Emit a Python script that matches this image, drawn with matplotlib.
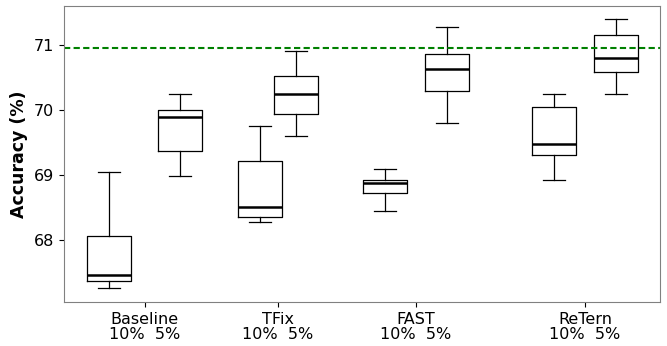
import matplotlib
matplotlib.use("Agg")
import matplotlib.pyplot as plt

# groups and box positions (10% / 5% for each method)
methods = ['Baseline', 'TFix', 'FAST', 'ReTern']
positions = [1.02, 2.64, 4.45, 5.27, 7.30, 8.70, 11.14, 12.55]
tick_pos = [1.83, 4.86, 8.0, 11.84]

# box statistics
whislo = [67.26, 68.99, 68.28, 69.60, 68.45, 69.80, 68.93, 70.25]
q1     = [67.38, 69.37, 68.36, 69.94, 68.72, 70.30, 69.31, 70.58]
med    = [67.46, 69.89, 68.51, 70.25, 68.88, 70.63, 69.48, 70.80]
q3     = [68.06, 70.00, 69.22, 70.53, 68.93, 70.86, 70.04, 71.16]
whishi = [69.05, 70.25, 69.75, 70.90, 69.10, 71.28, 70.25, 71.40]
ref_acc = 70.96

stats = []
for i in range(len(med)):
    stats.append({'whislo': whislo[i], 'q1': q1[i], 'med': med[i],
                  'q3': q3[i], 'whishi': whishi[i], 'fliers': []})

fig = plt.figure(figsize=(6.67, 3.46), dpi=100)
ax = fig.add_axes([0.096, 0.127, 0.894, 0.856])

ax.bxp(stats, positions=positions, widths=1.0, showfliers=False,
       boxprops=dict(color='black', linewidth=0.9),
       whiskerprops=dict(color='black', linewidth=0.9),
       capprops=dict(color='black', linewidth=0.9),
       medianprops=dict(color='black', linewidth=1.8))

ax.axhline(ref_acc, color='green', linestyle='--', linewidth=1.5, dashes=(3, 1.6))

ax.set_xlim(0, 13.55)
ax.set_ylim(67.05, 71.6)
ax.set_yticks([68, 69, 70, 71])
ax.set_xticks(tick_pos)
ax.set_xticklabels([m + '\n10%  5%' for m in methods], linespacing=1.0)
ax.tick_params(labelsize=11.5)
ax.set_ylabel('Accuracy (%)', fontsize=12.5, fontweight='bold', labelpad=4)
for s in ax.spines.values():
    s.set_color('gray')

fig.savefig('out.png', dpi=100)
